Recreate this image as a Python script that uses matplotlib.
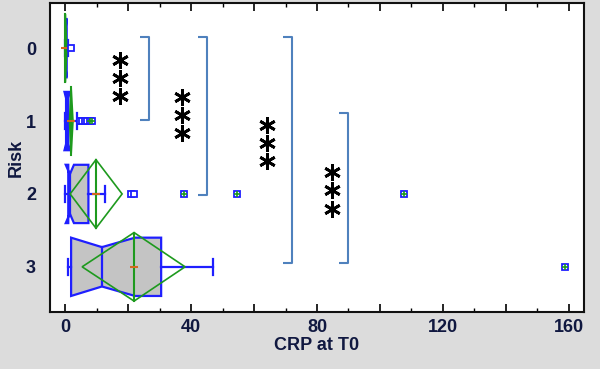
import matplotlib
matplotlib.use("Agg")
import matplotlib.pyplot as plt
from matplotlib.patches import Polygon
from matplotlib.ticker import MultipleLocator, FuncFormatter

# ---- data ----
risk = [0, 1, 2, 3]
whisk_lo = [0.0, 0.0, 0.0, 1.0]
q1 = [0.0, 0.3, 1.0, 1.9]
median = [0.2, 0.6, 1.5, 11.7]
q3 = [0.5, 1.0, 7.4, 30.5]
whisk_hi = [0.8, 3.8, 12.7, 47.0]
notch_lo = [0.0, -0.2, 0.2, 1.9]
notch_hi = [0.4, 1.4, 2.8, 22.2]
mean = [0.1, 1.9, 9.8, 21.9]
mean_lo = [-0.1, 1.4, 1.6, 5.4]
mean_hi = [0.5, 2.5, 18.1, 38.1]

outlier_x = [1.9, 4.6, 5.4, 6.2, 7.0, 7.8, 8.6, 20.8, 21.8, 37.8, 54.6, 107.6, 158.7]
outlier_y = [0, 1, 1, 1, 1, 1, 1, 2, 2, 2, 2, 2, 3]
outlier_far = [False, False, False, False, False, True, True, False, False, True, True, True, True]

# significance brackets: (y_top, y_bottom, x)
brk_top = [-0.15, -0.15, -0.15, 0.89]
brk_bot = [0.99, 2.01, 2.95, 2.95]
brk_x = [26.7, 45.1, 72.1, 89.8]
star_x = [17.5, 37.1, 64.1, 84.8]
star_y = [0.41, 0.92, 1.30, 1.95]

BLUE = "#1f1fff"
GREEN = "#1e9a1e"
GRAY = "#c4c4c4"
ORANGE = "#d2691e"
BRK = "#4f81bd"
TXT = "#101840"

fig = plt.figure(figsize=(6.0, 3.69), dpi=100, facecolor="#dcdcdc")
ax = fig.add_axes([50/600, 1-312/369, 534/600, 309/369])
ax.set_facecolor("white")

h = 0.40
hn = 0.27
hd = 0.47
cap = 0.11

for i, c in enumerate(risk):
    lo, a, m, b, hi = whisk_lo[i], q1[i], median[i], q3[i], whisk_hi[i]
    nl, nh = notch_lo[i], notch_hi[i]
    pts = [(a, c - h), (nl, c - h), (m, c - hn), (nh, c - h), (b, c - h),
           (b, c + h), (nh, c + h), (m, c + hn), (nl, c + h), (a, c + h)]
    ax.add_patch(Polygon(pts, closed=True, facecolor=GRAY, edgecolor=BLUE,
                         linewidth=1.6, zorder=2))
    ax.plot([m, m], [c - hn, c + hn], color=BLUE, lw=1.6, zorder=3)
    # whiskers
    ax.plot([lo, a], [c, c], color=BLUE, lw=1.6, zorder=3)
    ax.plot([b, hi], [c, c], color=BLUE, lw=1.6, zorder=3)
    ax.plot([lo, lo], [c - cap, c + cap], color=BLUE, lw=1.6, zorder=3)
    ax.plot([hi, hi], [c - cap, c + cap], color=BLUE, lw=1.6, zorder=3)
    # mean diamond
    dia = [(mean_lo[i], c), (mean[i], c - hd), (mean_hi[i], c), (mean[i], c + hd)]
    ax.add_patch(Polygon(dia, closed=True, facecolor="none", edgecolor=GREEN,
                         linewidth=1.2, zorder=4))
    ax.plot([mean[i], mean[i]], [c - hd, c + hd], color=GREEN, lw=1.5, zorder=4)
    ax.plot([mean[i]], [c], marker="_", color=ORANGE, ms=6, mew=1.5, zorder=5)

# outliers
for x, y, far in zip(outlier_x, outlier_y, outlier_far):
    ax.plot([x], [y], marker="s", ms=5, mfc="white", mec=BLUE, mew=1.3, zorder=5)
    if far:
        ax.plot([x], [y], marker="+", ms=4, color=GREEN, mew=1.2, zorder=6)

# brackets and stars
tick_len = 2.8
for yt, yb, x in zip(brk_top, brk_bot, brk_x):
    ax.plot([x - tick_len, x, x, x - tick_len], [yt, yt, yb, yb], color=BRK,
            lw=1.5, zorder=3, solid_capstyle="butt")
for sx, sy in zip(star_x, star_y):
    ax.plot([sx] * 3, [sy - 0.25, sy, sy + 0.25], linestyle="none",
            marker=(6, 2, 0), ms=12, mew=2.0, color="black", zorder=6)

ax.set_xlim(-4.8, 164.8)
ax.set_ylim(3.62, -0.62)

ax.xaxis.set_major_locator(MultipleLocator(20))
ax.xaxis.set_minor_locator(MultipleLocator(10))
ax.xaxis.set_major_formatter(FuncFormatter(lambda v, p: f"{int(round(v))}" if round(v) % 40 == 0 else ""))
ax.set_yticks(risk)
ax.set_yticklabels([str(r) for r in risk])
ax.tick_params(axis="x", which="major", direction="in", length=6, width=1.2,
               top=True, bottom=True, colors="black", labelcolor=TXT, pad=5)
ax.tick_params(axis="x", which="minor", direction="in", length=3, width=1.0,
               top=True, bottom=True)
ax.tick_params(axis="y", which="both", length=0, labelcolor=TXT, pad=10)

for lab in ax.get_xticklabels() + ax.get_yticklabels():
    lab.set_fontfamily("Liberation Sans")
    lab.set_fontweight("bold")
    lab.set_fontsize(13)

ax.set_xlabel("CRP at T0", fontfamily="Liberation Sans", fontweight="bold",
              fontsize=13, color=TXT, labelpad=1)
ax.set_ylabel("Risk", fontfamily="Liberation Sans", fontweight="bold",
              fontsize=13, color=TXT, labelpad=1)

for s in ax.spines.values():
    s.set_linewidth(1.5)
    s.set_color("#111111")

fig.savefig("out.png", dpi=100, facecolor=fig.get_facecolor())
